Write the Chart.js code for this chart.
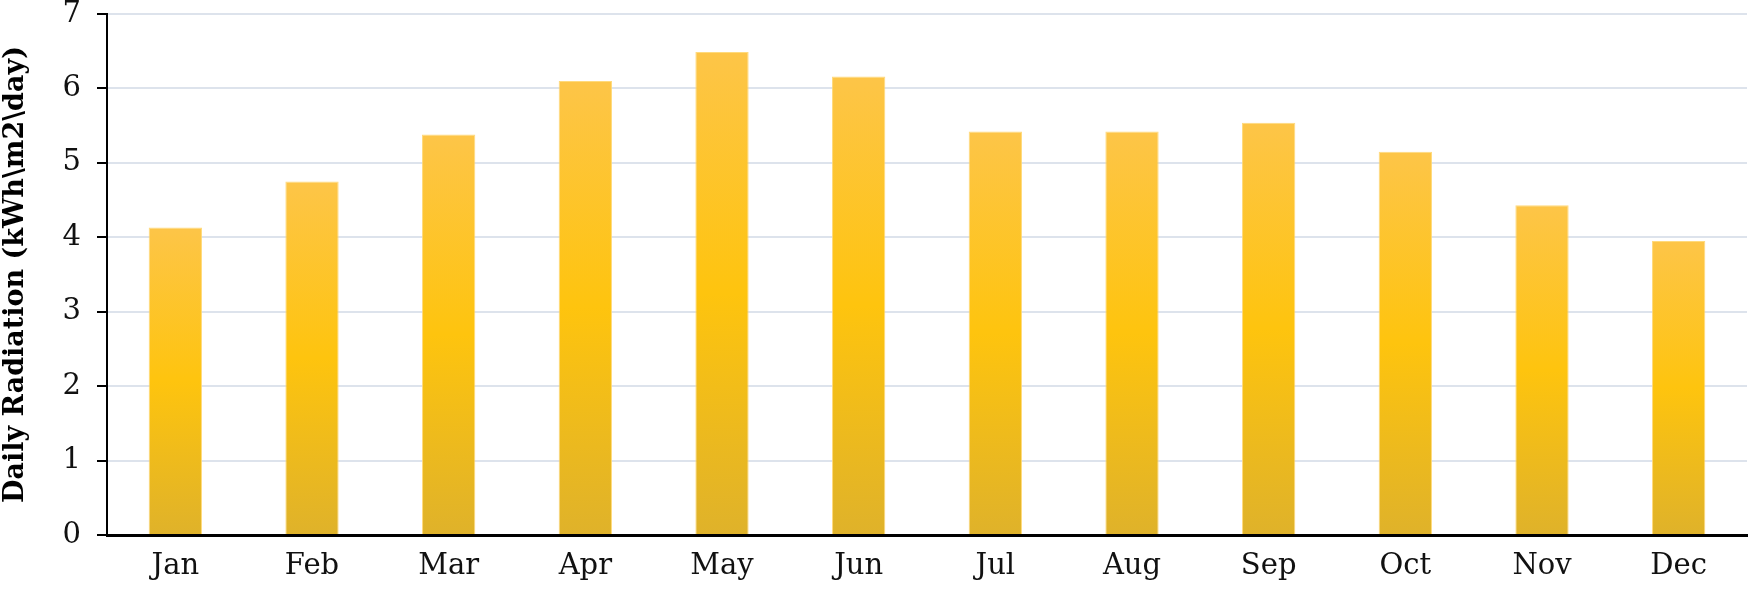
<!DOCTYPE html>
<html>
<head>
<meta charset="utf-8">
<script src="https://cdn.jsdelivr.net/npm/chart.js@4"></script>
<style>
  html, body { margin: 0; padding: 0; background: #fff; }
  #wrap { width: 1750px; height: 590px; }
</style>
</head>
<body>
<div id="wrap"><canvas id="myChart" width="1750" height="590"></canvas></div>
<script>
const months = ["Jan", "Feb", "Mar", "Apr", "May", "Jun", "Jul", "Aug", "Sep", "Oct", "Nov", "Dec"];
const radiation = [4.13, 4.75, 5.38, 6.10, 6.49, 6.16, 5.42, 5.42, 5.54, 5.15, 4.43, 3.95];
const yTicks = [0, 1, 2, 3, 4, 5, 6, 7];

// each bar gets its own vertical gradient, light orange on top to darker gold at the base
function barFill(context) {
  const chart = context.chart;
  if (!chart.chartArea || context.parsed == null) return "#FEC40F";
  const y = chart.scales.y;
  const top = y.getPixelForValue(context.parsed.y);
  const bottom = y.getPixelForValue(0);
  const g = chart.ctx.createLinearGradient(0, top, 0, bottom);
  g.addColorStop(0, "#FDC548");
  g.addColorStop(0.5, "#FEC40E");
  g.addColorStop(1, "#DFB22A");
  return g;
}

let ctx = document.getElementById("myChart").getContext("2d");
let myChart = new Chart(ctx, {
  type: "bar",
  data: {
    labels: months,
    datasets: [
      {
        label: "Daily Radiation",
        data: radiation,
        backgroundColor: barFill,
        borderColor: "rgba(255, 214, 110, 0.9)",
        borderWidth: 1,
        categoryPercentage: 1,
        barPercentage: 0.39,
      },
    ],
  },
  options: {
    responsive: false,
    animation: false,
    layout: {
      padding: { top: 14, right: 3, left: 0, bottom: 0 },
    },
    plugins: {
      legend: { display: false },
      tooltip: { enabled: false },
    },
    scales: {
      x: {
        grid: { display: false, drawTicks: false },
        border: { color: "#000", width: 3 },
        ticks: {
          color: "#111",
          padding: 14,
          font: { family: "'DejaVu Serif', serif", size: 29 },
        },
        afterFit: (scale) => { scale.height = 55; },
      },
      y: {
        min: 0,
        max: 7,
        afterBuildTicks: (scale) => {
          scale.ticks = yTicks.map((v) => ({ value: v }));
        },
        grid: {
          color: "#DDE3EC",
          lineWidth: 2,
          tickColor: "#000",
          tickLength: 10,
        },
        border: { color: "#000", width: 2 },
        ticks: {
          color: "#111",
          padding: 16,
          font: { family: "'DejaVu Serif', serif", size: 29 },
        },
        title: {
          display: true,
          text: "Daily Radiation (kWh\\m2\\day)",
          color: "#000",
          padding: { top: 0, bottom: 6 },
          font: { family: "'DejaVu Serif', serif", size: 27, weight: "bold" },
        },
        afterFit: (scale) => {
          scale.width = 107;
          scale.paddingTop = 0;
          scale.paddingBottom = 0;
        },
      },
    },
  },
});
</script>
</body>
</html>
